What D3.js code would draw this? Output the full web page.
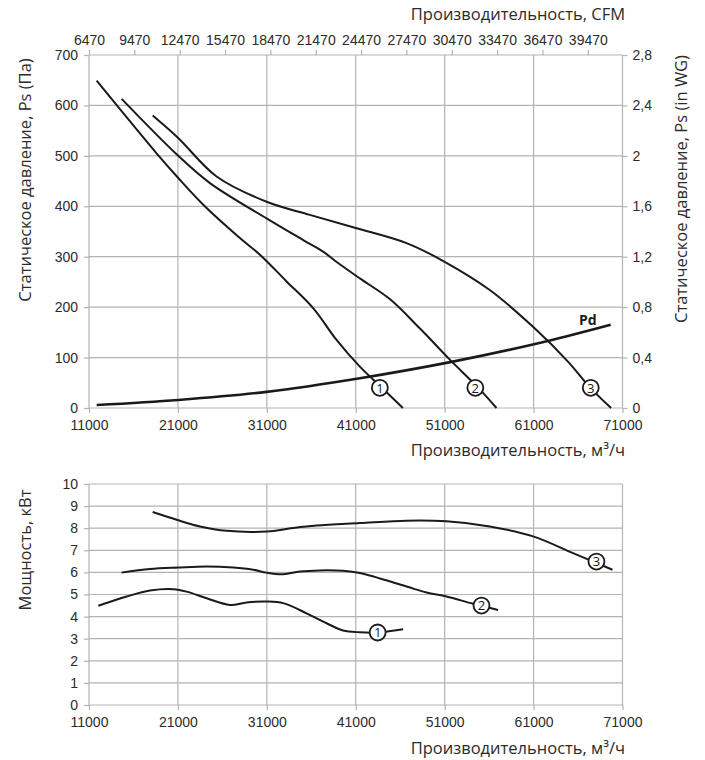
<!DOCTYPE html>
<html>
<head>
<meta charset="utf-8">
<script src="https://cdn.jsdelivr.net/npm/d3@7"></script>
<style>
  body { margin: 0; background: #fff; }
  svg { font-family: "Open Sans", "Noto Sans", sans-serif; }
</style>
</head>
<body>
<script>
// ---- data ----
var flowTicks = [11000, 21000, 31000, 41000, 51000, 61000, 71000];
var cfmTicks = [6470, 9470, 12470, 15470, 18470, 21470, 24470, 27470, 30470, 33470, 36470, 39470];
var paTicks = [0, 100, 200, 300, 400, 500, 600, 700];
var wgTicks = [0, 0.4, 0.8, 1.2, 1.6, 2, 2.4, 2.8];
var kwTicks = [0, 1, 2, 3, 4, 5, 6, 7, 8, 9, 10];

// pressure curves [m3/h, Pa]
var ps1 = [[11860, 649], [18600, 505], [21040, 456], [23850, 403], [27970, 337], [30220, 304],
  [33220, 251], [36210, 198], [38840, 135], [41460, 82], [43710, 44], [46300, 0]];
var ps2 = [[14670, 613], [21040, 500], [24600, 446], [30970, 376], [35090, 333], [37330, 310],
  [38740, 291], [41460, 257], [44830, 216], [48200, 158], [51580, 96], [54950, 37], [56830, 0]];
var ps3 = [[18160, 580], [21000, 536], [25350, 459], [30970, 409], [35840, 383], [41000, 357],
  [46710, 327], [51000, 290], [56070, 234], [61000, 160], [64920, 91], [67280, 42], [69720, 0]];
var pd = [[11860, 6], [21040, 16], [30970, 32], [41460, 59], [51910, 92], [62370, 132], [69670, 165]];

// power curves [m3/h, kW]
var kw1 = [[12050, 4.49], [15240, 4.91], [17860, 5.18], [20480, 5.24], [21980, 5.13], [24230, 4.83],
  [26850, 4.53], [28730, 4.64], [30970, 4.68], [32840, 4.61], [35470, 4.15], [37720, 3.70],
  [39580, 3.37], [41460, 3.29], [43340, 3.28], [46330, 3.43]];
var kw2 = [[14670, 5.99], [17860, 6.15], [21040, 6.22], [24230, 6.27], [27220, 6.22], [29470, 6.12],
  [30970, 5.99], [32840, 5.92], [34720, 6.04], [36960, 6.09], [39580, 6.07], [41460, 5.97],
  [46710, 5.36], [48960, 5.09], [51200, 4.91], [54200, 4.58], [57000, 4.30]];
var kw3 = [[18160, 8.73], [20860, 8.38], [23480, 8.08], [26480, 7.88], [30970, 7.85], [33960, 8.01],
  [36590, 8.12], [41460, 8.23], [46710, 8.34], [51200, 8.31], [56070, 8.08], [60940, 7.63],
  [65440, 6.87], [69870, 6.12]];

// circled curve numbers [label, m3/h, value]
var psMarks = [["1", 43710, 40], ["2", 54450, 40], ["3", 67430, 40]];
var kwMarks = [["1", 43460, 3.28], ["2", 55140, 4.50], ["3", 68070, 6.49]];

var width = 705, height = 760;
var gridColor = "#b3b3b3", textColor = "#2b2b2b";

var svg = d3.select("body").append("svg")
    .attr("width", width)
    .attr("height", height);

var x = d3.scaleLinear().domain([11000, 71000]).range([89, 622.5]);
var xCfm = d3.scaleLinear().domain([11000 / 1.7, 71000 / 1.7]).range([89, 622.5]);
var yPa = d3.scaleLinear().domain([0, 700]).range([408, 55]);
var yWg = d3.scaleLinear().domain([0, 2.8]).range([408, 55]);
var yKw = d3.scaleLinear().domain([0, 10]).range([705, 484]);

var comma = d => String(+d.toFixed(1)).replace(".", ",");
var plain = d3.format("d");

function styleAxis(g) {
    g.select(".domain").remove();
    g.selectAll(".tick line").attr("stroke", gridColor).attr("stroke-width", 1.2);
    g.selectAll(".tick text").attr("fill", textColor).style("font-size", "14px");
}

function grid(g, yScale, yTicks) {
    g.append("g").selectAll("line")
        .data(yTicks).enter().append("line")
        .attr("x1", x.range()[0]).attr("x2", x.range()[1])
        .attr("y1", d => yScale(d)).attr("y2", d => yScale(d))
        .attr("stroke", gridColor).attr("stroke-width", 1.2);
    g.append("g").selectAll("line")
        .data(flowTicks).enter().append("line")
        .attr("x1", d => x(d)).attr("x2", d => x(d))
        .attr("y1", yScale.range()[0]).attr("y2", yScale.range()[1])
        .attr("stroke", gridColor).attr("stroke-width", 1.2);
}

function curve(g, data, yScale, w) {
    var line = d3.line()
        .x(d => x(d[0]))
        .y(d => yScale(d[1]))
        .curve(d3.curveCatmullRom.alpha(0.5));
    g.append("path")
        .attr("d", line(data))
        .attr("fill", "none")
        .attr("stroke", "#1a1a1a")
        .attr("stroke-width", w || 2);
}

function marks(g, data, yScale) {
    var m = g.append("g").selectAll("g")
        .data(data).enter().append("g")
        .attr("transform", d => `translate(${x(d[1])},${yScale(d[2])})`);
    m.append("circle")
        .attr("r", 8)
        .attr("fill", "#fff")
        .attr("stroke", "#1a1a1a")
        .attr("stroke-width", 1.8);
    m.append("text")
        .text(d => d[0])
        .attr("text-anchor", "middle")
        .attr("dy", "0.36em")
        .attr("fill", "#1a1a1a")
        .style("font-size", "13px");
}

function title(g, txt, tx, ty, rot, anchor) {
    g.append("text")
        .attr("transform", `translate(${tx},${ty})` + (rot ? " rotate(-90)" : ""))
        .attr("text-anchor", anchor)
        .attr("fill", textColor)
        .style("font-size", "16.5px")
        .text(txt);
}

// ---- top chart: static pressure ----
var topG = svg.append("g");
grid(topG, yPa, paTicks);

topG.append("g")
    .attr("transform", "translate(89,0)")
    .call(d3.axisLeft(yPa).tickValues(paTicks).tickSize(5).tickPadding(6))
    .call(styleAxis);
topG.append("g")
    .attr("transform", "translate(622.5,0)")
    .call(d3.axisRight(yWg).tickValues(wgTicks).tickSize(5).tickPadding(5).tickFormat(comma))
    .call(styleAxis);
topG.append("g")
    .attr("transform", "translate(0,408)")
    .call(d3.axisBottom(x).tickValues(flowTicks).tickSize(5).tickPadding(7).tickFormat(plain))
    .call(styleAxis);
topG.append("g")
    .attr("transform", "translate(0,55)")
    .call(d3.axisTop(xCfm).tickValues(cfmTicks).tickSize(5).tickPadding(5).tickFormat(plain))
    .call(styleAxis);

curve(topG, pd, yPa, 2.6);
[ps1, ps2, ps3].forEach(d => curve(topG, d, yPa, 2));
marks(topG, psMarks, yPa);

topG.append("text")
    .attr("x", x(pd[pd.length - 1][0]) - 14)
    .attr("y", yPa(pd[pd.length - 1][1]))
    .attr("text-anchor", "end")
    .attr("fill", "#1a1a1a")
    .style("font-size", "14px")
    .style("font-weight", "bold")
    .text("Pd");

title(topG, "Производительность, CFM", 625, 20, false, "end");
title(topG, "Производительность, м³/ч", 625, 456, false, "end");
title(topG, "Статическое давление, Ps (Па)", 31, 180, true, "middle");
title(topG, "Статическое давление, Ps (in WG)", 687, 189, true, "middle");

// ---- bottom chart: power ----
var botG = svg.append("g");
grid(botG, yKw, kwTicks);

botG.append("g")
    .attr("transform", "translate(89,0)")
    .call(d3.axisLeft(yKw).tickValues(kwTicks).tickSize(5).tickPadding(6))
    .call(styleAxis);
botG.append("g")
    .attr("transform", "translate(0,705)")
    .call(d3.axisBottom(x).tickValues(flowTicks).tickSize(5).tickPadding(7).tickFormat(plain))
    .call(styleAxis);

[kw1, kw2, kw3].forEach(d => curve(botG, d, yKw, 2));
marks(botG, kwMarks, yKw);

title(botG, "Производительность, м³/ч", 625, 754, false, "end");
title(botG, "Мощность, кВт", 31, 550, true, "middle");
</script>
</body>
</html>
